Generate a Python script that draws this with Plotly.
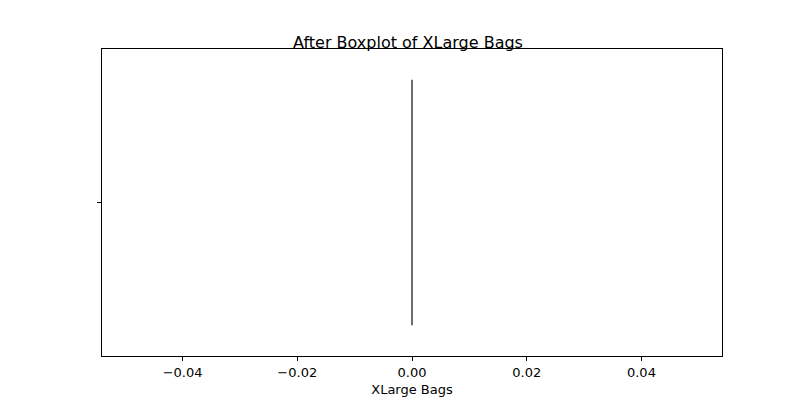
import plotly.graph_objects as go

# every value in the column is zero after outlier removal
xlarge_bags = [0.0] * 50
x_ticks = [-0.04, -0.02, 0.0, 0.02, 0.04]
x_labels = ["\u22120.04", "\u22120.02", "0.00", "0.02", "0.04"]

fig = go.Figure(go.Box(
    x=xlarge_bags,
    y=[0] * len(xlarge_bags),
    orientation="h",
    width=0.8,
    boxpoints=False,
    fillcolor="rgba(0,0,0,0)",
    line=dict(color="#3f3f3f", width=1.5),
    showlegend=False,
))

axis_style = dict(showline=True, linecolor="black", linewidth=1, mirror=True,
                  ticks="outside", ticklen=4, tickcolor="black", showgrid=False,
                  zeroline=False)

fig.update_xaxes(range=[-0.05405, 0.05405], tickvals=x_ticks, ticktext=x_labels,
                 title=dict(text="XLarge Bags", standoff=6, font=dict(size=13)),
                 **axis_style)
fig.update_yaxes(range=[-0.5, 0.5], tickvals=[0], ticktext=[""], **axis_style)

fig.update_layout(
    width=800, height=400,
    title=dict(text="After Boxplot of XLarge Bags", x=0.5, xanchor="center",
               y=0.915, yanchor="middle", font=dict(size=16)),
    font=dict(family="DejaVu Sans", size=13, color="black"),
    plot_bgcolor="white", paper_bgcolor="white",
    margin=dict(l=94, r=86, t=41, b=52),
)

fig.write_html("out.html")
